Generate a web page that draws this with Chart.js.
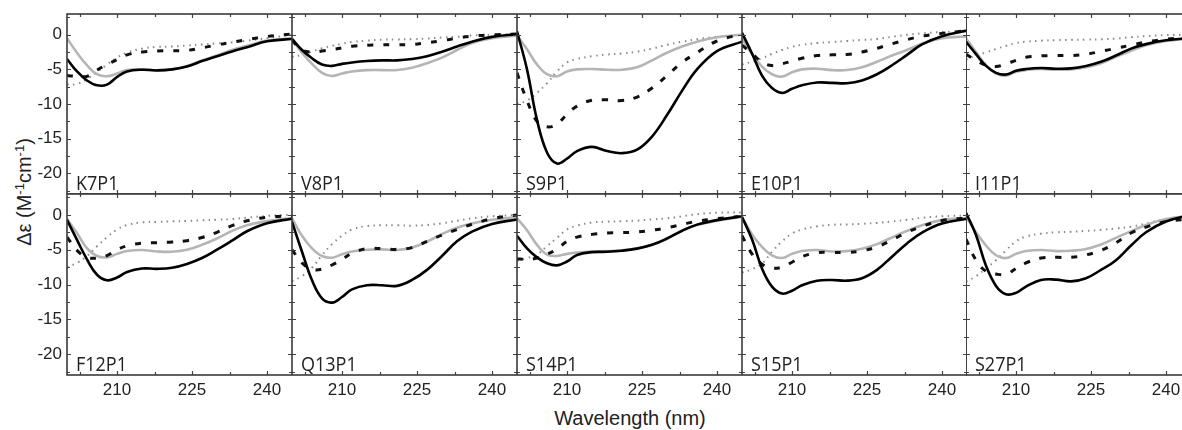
<!DOCTYPE html>
<html>
<head>
<meta charset="utf-8">
<script src="https://cdn.jsdelivr.net/npm/chart.js@4.4.1/dist/chart.umd.min.js"></script>
<style>
  html, body { margin: 0; padding: 0; background: #fff; overflow: hidden; }
  #wrap { position: relative; width: 1182px; height: 430px; overflow: hidden; }
  canvas { position: absolute; }
  .panel-name { position: absolute; font-family: 'Open Sans', sans-serif; font-size: 20px; line-height: 20px;
    color: #222; white-space: nowrap; transform: scaleX(0.9); transform-origin: left top; }
  #xTitle { position: absolute; left: 630px; top: 408px; transform: translateX(-50%);
    font-family: 'Liberation Sans', Arial, sans-serif; font-size: 20px; line-height: 20px; color: #222; white-space: nowrap; }
  #yTitle { position: absolute; left: 25px; top: 192px; transform: translate(-50%, -50%) rotate(-90deg);
    font-family: 'Liberation Sans', Arial, sans-serif; font-size: 20px; line-height: 20px; color: #222; white-space: nowrap; }
  #yTitle span { font-size: 13px; position: relative; top: -7px; }
</style>
</head>
<body>
<div id="wrap">
  <div id="xTitle">Wavelength (nm)</div>
  <div id="yTitle">Δε (M<span>-1</span>cm<span>-1</span>)</div>
</div>
<script>
// wavelengths (nm), shared by every panel
const wavelengths = [200, 202, 204, 206, 208, 210, 212, 215, 218, 221, 224, 227, 230, 233, 236, 240, 245];
const xTicks = [210, 225, 240];
const yTicks = [0, -5, -10, -15, -20];
const xTickMarks = [202.5, 210, 217.5, 225, 232.5, 240];
const yTickMarks = [2.5, 0, -2.5, -5, -7.5, -10, -12.5, -15, -17.5, -20, -22.5];

// Δε values: black solid, black dashed, grey solid, grey dotted
const K7P1_black = [-3.5, -5.3, -6.6, -7.3, -7.2, -6.1, -5.3, -5.05, -5.15, -5.0, -4.6, -3.8, -3.1, -2.4, -1.8, -0.95, -0.6];
const K7P1_dash  = [-5.9, -6.0, -6.0, -5.1, -4.3, -3.6, -2.9, -2.5, -2.35, -2.3, -2.25, -1.9, -1.45, -1.1, -0.7, -0.25, 0.1];
const K7P1_gray  = [-0.5, -2.6, -4.4, -5.7, -6.0, -5.6, -5.1, -5.0, -5.15, -5.0, -4.5, -3.7, -3.0, -2.2, -1.6, -0.85, -0.5];
const K7P1_dot   = [-7.2, -7.1, -6.4, -5.4, -4.3, -3.3, -2.6, -2.0, -1.75, -1.7, -1.55, -1.4, -1.25, -1.1, -0.85, -0.5, 0];

const V8P1_black = [-0.6, -2.2, -3.4, -4.3, -4.5, -4.2, -4.0, -3.8, -3.7, -3.7, -3.5, -3.1, -2.45, -1.7, -1.0, -0.3, 0.1];
const V8P1_dash  = [-0.8, -2.2, -2.5, -2.35, -2.15, -1.9, -1.65, -1.5, -1.45, -1.45, -1.4, -1.15, -0.85, -0.5, -0.2, 0, 0.1];
const V8P1_gray  = [-0.6, -2.6, -4.2, -5.5, -5.95, -5.6, -5.3, -5.1, -5.1, -5.1, -4.75, -4.1, -3.3, -2.2, -1.2, -0.5, -0.15];
const V8P1_dot   = [-3.2, -2.9, -2.4, -1.95, -1.6, -1.3, -1.05, -0.85, -0.72, -0.68, -0.63, -0.55, -0.4, -0.28, -0.1, 0, 0.1];

const S9P1_black = [0.5, -5.0, -12.3, -17.0, -18.6, -17.9, -16.8, -16.2, -16.8, -17.1, -16.6, -14.7, -11.6, -8.1, -5.0, -2.35, -1.0];
const S9P1_dash  = [-5.5, -9.5, -12.5, -13.3, -12.9, -11.5, -10.3, -9.45, -9.4, -9.5, -9.0, -7.7, -5.9, -4.0, -2.6, -0.9, 0.1];
const S9P1_gray  = [-0.1, -2.1, -4.3, -5.7, -6.0, -5.3, -5.0, -4.95, -5.05, -5.05, -4.7, -3.7, -2.6, -1.7, -1.0, -0.35, 0];
const S9P1_dot   = [-10.0, -9.5, -8.4, -7.0, -5.3, -4.0, -3.5, -3.1, -2.85, -2.7, -2.45, -2.0, -1.45, -1.0, -0.65, -0.3, 0];

const E10P1_black = [0.3, -2.7, -5.9, -7.7, -8.4, -7.8, -7.3, -6.9, -6.95, -7.0, -6.6, -5.7, -4.4, -2.9, -1.4, -0.2, 0.6];
const E10P1_dash  = [-1.5, -2.7, -3.95, -4.45, -4.2, -3.8, -3.4, -3.0, -2.9, -2.85, -2.5, -1.95, -1.3, -0.7, -0.2, 0.2, 0.6];
const E10P1_gray  = [-0.5, -2.8, -4.6, -5.7, -6.05, -5.4, -5.0, -4.9, -5.1, -5.1, -4.7, -3.9, -3.0, -2.2, -1.3, -0.5, -0.25];
const E10P1_dot   = [-4.3, -3.9, -3.4, -2.75, -2.2, -1.75, -1.45, -1.2, -1.05, -0.9, -0.75, -0.6, -0.3, 0, 0.2, 0.4, 0.5];

const I11P1_black = [-1.0, -2.8, -4.5, -5.5, -5.75, -5.2, -4.95, -4.8, -4.9, -4.85, -4.5, -3.9, -3.0, -2.0, -1.35, -0.8, -0.45];
const I11P1_dash  = [-2.8, -3.7, -4.4, -4.6, -4.2, -3.7, -3.25, -3.05, -3.0, -3.0, -2.8, -2.4, -1.95, -1.5, -1.05, -0.65, -0.4];
const I11P1_gray  = [-0.5, -2.5, -4.4, -5.6, -5.9, -5.35, -5.1, -4.95, -5.05, -5.0, -4.7, -4.1, -3.2, -2.3, -1.5, -0.9, -0.5];
const I11P1_dot   = [-3.6, -3.0, -2.55, -2.05, -1.6, -1.2, -1.0, -0.85, -0.78, -0.73, -0.7, -0.66, -0.55, -0.35, -0.2, -0.05, 0];

const F12P1_black = [-0.7, -3.6, -6.4, -8.6, -9.4, -9.0, -8.2, -7.7, -7.75, -7.6, -7.05, -6.2, -5.0, -3.7, -2.35, -1.2, -0.55];
const F12P1_dash  = [-3.2, -5.1, -6.1, -6.2, -5.85, -5.0, -4.45, -4.05, -4.0, -3.9, -3.7, -3.25, -2.5, -1.55, -0.85, -0.35, -0.1];
const F12P1_gray  = [-0.6, -2.6, -4.8, -5.9, -6.1, -5.6, -5.2, -5.05, -5.25, -5.3, -5.0, -4.3, -3.4, -2.3, -1.5, -0.9, -0.45];
const F12P1_dot   = [-7.5, -6.9, -5.9, -4.5, -3.2, -2.1, -1.45, -1.08, -1.0, -0.93, -0.88, -0.78, -0.7, -0.6, -0.4, -0.15, 0];

const Q13P1_black = [-1.0, -5.3, -9.4, -12.0, -12.6, -11.8, -10.7, -10.1, -10.1, -10.2, -9.35, -7.9, -5.9, -3.8, -2.4, -1.3, -0.65];
const Q13P1_dash  = [-5.0, -6.9, -7.8, -7.8, -7.2, -6.4, -5.5, -4.85, -4.85, -4.95, -4.7, -3.8, -2.9, -2.1, -1.35, -0.55, 0];
const Q13P1_gray  = [-0.5, -3.0, -4.8, -5.9, -6.15, -5.65, -5.25, -5.0, -4.95, -5.05, -4.7, -3.85, -2.75, -1.85, -1.25, -0.7, -0.35];
const Q13P1_dot   = [-9.5, -8.8, -7.6, -5.8, -4.2, -3.0, -2.1, -1.6, -1.5, -1.5, -1.55, -1.45, -1.2, -0.85, -0.5, -0.2, 0];

const S14P1_black = [-3.0, -4.8, -6.1, -6.95, -7.25, -6.7, -5.75, -5.35, -5.3, -5.15, -4.85, -4.3, -3.4, -2.3, -1.4, -0.75, -0.2];
const S14P1_dash  = [-6.3, -6.4, -6.2, -5.65, -4.9, -3.8, -3.2, -2.8, -2.62, -2.55, -2.45, -2.2, -1.85, -1.38, -0.9, -0.55, -0.2];
const S14P1_gray  = [-0.5, -2.2, -4.3, -5.7, -5.9, -5.6, -5.4, -5.25, -5.2, -5.1, -4.8, -4.3, -3.4, -2.25, -1.45, -0.85, -0.3];
const S14P1_dot   = [-6.6, -6.2, -5.7, -4.5, -3.3, -2.1, -1.55, -1.1, -0.98, -0.9, -0.82, -0.65, -0.5, -0.2, 0.1, 0.3, 0.35];

const S15P1_black = [-0.3, -3.5, -7.7, -10.3, -11.3, -10.9, -10.1, -9.45, -9.35, -9.45, -9.1, -7.9, -6.0, -4.1, -2.55, -1.25, -0.55];
const S15P1_dash  = [-3.0, -5.6, -7.1, -7.65, -7.5, -6.8, -6.0, -5.45, -5.4, -5.4, -5.15, -4.6, -3.6, -2.5, -1.65, -0.8, -0.45];
const S15P1_gray  = [-0.3, -2.8, -4.6, -5.8, -6.2, -5.6, -5.2, -5.05, -5.25, -5.2, -4.85, -4.2, -3.25, -2.3, -1.5, -0.75, -0.45];
const S15P1_dot   = [-8.3, -7.8, -7.0, -5.3, -3.8, -2.7, -2.1, -1.65, -1.42, -1.37, -1.28, -1.15, -0.95, -0.7, -0.42, -0.2, -0.1];

const S27P1_black = [0.3, -2.9, -7.3, -10.2, -11.4, -11.2, -10.3, -9.35, -9.3, -9.55, -9.1, -7.9, -6.5, -4.4, -2.5, -0.95, 0];
const S27P1_dash  = [-3.5, -6.5, -8.1, -8.5, -8.55, -7.7, -6.9, -6.2, -6.1, -6.1, -5.75, -5.1, -4.0, -2.6, -1.75, -0.96, -0.6];
const S27P1_gray  = [-0.2, -2.5, -4.4, -5.8, -6.2, -5.6, -5.2, -5.05, -5.2, -5.15, -4.9, -4.25, -3.3, -2.35, -1.45, -0.6, -0.1];
const S27P1_dot   = [-9.6, -8.8, -7.7, -6.5, -5.1, -3.8, -3.1, -2.7, -2.5, -2.42, -2.3, -2.15, -1.95, -1.7, -1.25, -0.6, -0.3];

const panels = [
  { name: 'K7P1',  black: K7P1_black,  dash: K7P1_dash,  gray: K7P1_gray,  dot: K7P1_dot },
  { name: 'V8P1',  black: V8P1_black,  dash: V8P1_dash,  gray: V8P1_gray,  dot: V8P1_dot },
  { name: 'S9P1',  black: S9P1_black,  dash: S9P1_dash,  gray: S9P1_gray,  dot: S9P1_dot },
  { name: 'E10P1', black: E10P1_black, dash: E10P1_dash, gray: E10P1_gray, dot: E10P1_dot },
  { name: 'I11P1', black: I11P1_black, dash: I11P1_dash, gray: I11P1_gray, dot: I11P1_dot },
  { name: 'F12P1', black: F12P1_black, dash: F12P1_dash, gray: F12P1_gray, dot: F12P1_dot },
  { name: 'Q13P1', black: Q13P1_black, dash: Q13P1_dash, gray: Q13P1_gray, dot: Q13P1_dot },
  { name: 'S14P1', black: S14P1_black, dash: S14P1_dash, gray: S14P1_gray, dot: S14P1_dot },
  { name: 'S15P1', black: S15P1_black, dash: S15P1_dash, gray: S15P1_gray, dot: S15P1_dot },
  { name: 'S27P1', black: S27P1_black, dash: S27P1_dash, gray: S27P1_gray, dot: S27P1_dot }
];

// layout of the 2x5 grid (plot-area edges in page pixels)
const colLefts = [67, 292, 517, 742, 966];
const rowTops = [14, 194];
const panelW = 225;
const rowH = [180, 181];
const yAxisW = 67;
const xAxisH = 50;

const tickFont = { family: "'Liberation Sans', Arial, sans-serif", size: 17 };

// frame + inward ticks on all four sides
const frameTicks = {
  id: 'frameTicks',
  afterDatasetsDraw(chart) {
    const { ctx, chartArea: a, scales: { x, y } } = chart;
    ctx.save();
    ctx.strokeStyle = '#444';
    ctx.lineWidth = 1.2;
    ctx.beginPath();
    xTickMarks.forEach(v => {
      const px = Math.round(x.getPixelForValue(v)) + 0.5;
      const len = xTicks.includes(v) ? 4 : 3;
      ctx.moveTo(px, a.bottom); ctx.lineTo(px, a.bottom - len);
      ctx.moveTo(px, a.top); ctx.lineTo(px, a.top + len);
    });
    yTickMarks.forEach(v => {
      const py = Math.round(y.getPixelForValue(v)) + 0.5;
      const len = yTicks.includes(v) ? 4 : 3;
      ctx.moveTo(a.left, py); ctx.lineTo(a.left + len, py);
      ctx.moveTo(a.right, py); ctx.lineTo(a.right - len, py);
    });
    ctx.stroke();
    ctx.lineWidth = 1.6;
    ctx.strokeStyle = '#3a3a3a';
    ctx.strokeRect(a.left, a.top, a.right - a.left, a.bottom - a.top);
    ctx.restore();
  }
};

const wrap = document.getElementById('wrap');

panels.forEach((p, i) => {
  const col = i % 5;
  const row = Math.floor(i / 5);
  const padL = col === 0 ? yAxisW : 0;
  const padB = row === 1 ? xAxisH : 0;

  const canvas = document.createElement('canvas');
  canvas.width = panelW + padL;
  canvas.height = rowH[row] + padB + 1;
  canvas.style.left = (colLefts[col] - padL) + 'px';
  canvas.style.top = (rowTops[row] - 1) + 'px';
  canvas.style.width = canvas.width + 'px';
  canvas.style.height = canvas.height + 'px';
  wrap.appendChild(canvas);

  const label = document.createElement('div');
  label.className = 'panel-name';
  label.textContent = p.name;
  label.style.left = (colLefts[col] + 9) + 'px';
  label.style.top = (rowTops[row] + rowH[row] - 21) + 'px';
  wrap.appendChild(label);

  new Chart(canvas.getContext('2d'), {
    type: 'line',
    data: {
      labels: wavelengths,
      datasets: [
        { data: p.black, borderColor: '#000', borderWidth: 2.6 },
        { data: p.dash, borderColor: '#111', borderWidth: 3, borderDash: [6, 10] },
        { data: p.gray, borderColor: '#b5b5b5', borderWidth: 2.6 },
        { data: p.dot, borderColor: '#8a8a8a', borderWidth: 2, borderDash: [1.5, 4.5] }
      ].map(ds => ({ ...ds, data: wavelengths.map((w, k) => ({ x: w, y: ds.data[k] })),
        pointRadius: 0, fill: false, tension: 0.4 }))
    },
    options: {
      responsive: false,
      animation: false,
      devicePixelRatio: 1,
      layout: { padding: { top: 1, left: 0, right: 0, bottom: 0 }, autoPadding: false },
      plugins: { legend: { display: false }, tooltip: { enabled: false } },
      scales: {
        x: {
          type: 'linear', min: 200, max: 245,
          display: row === 1,
          afterBuildTicks: s => { s.ticks = xTicks.map(v => ({ value: v })); },
          afterFit: s => { s.height = padB; s.paddingLeft = 0; s.paddingRight = 0; },
          grid: { display: false, drawTicks: false },
          border: { display: false },
          ticks: { padding: 5, font: tickFont, color: '#222', maxRotation: 0, autoSkip: false, callback: v => String(v) }
        },
        y: {
          type: 'linear', min: -23, max: 3,
          display: col === 0,
          afterBuildTicks: s => { s.ticks = yTicks.map(v => ({ value: v })); },
          afterFit: s => { s.width = padL; s.paddingTop = 0; s.paddingBottom = 0; },
          grid: { display: false, drawTicks: false },
          border: { display: false },
          ticks: { padding: 5, font: tickFont, color: '#222', autoSkip: false, callback: v => String(v) }
        }
      }
    },
    plugins: [frameTicks]
  });
});
</script>
</body>
</html>
